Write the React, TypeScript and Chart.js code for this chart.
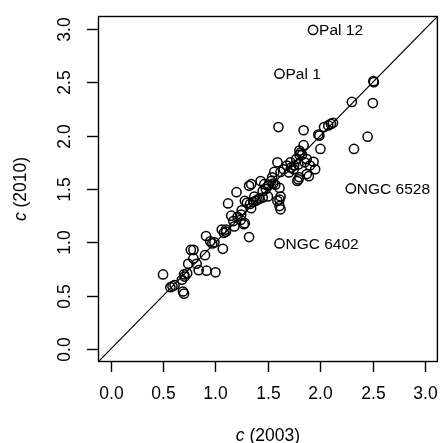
import React, { useEffect, useRef } from "react";
import { Chart, registerables } from "chart.js";

Chart.register(...registerables);

// c (2003) values
const xValues: number[] = [
  0.50, 0.57, 0.59, 0.61, 0.69, 0.70, 0.68, 0.70, 0.705, 0.73,
  0.74, 0.765, 0.79, 0.79, 0.82, 0.84, 0.915, 1.00, 0.90, 0.91,
  0.95, 0.97, 0.99, 1.07, 1.06, 1.08, 1.10, 1.10, 1.12, 1.15,
  1.17, 1.21, 1.24, 1.245, 1.27, 1.28, 1.20, 1.28, 1.32, 1.34,
  1.32, 1.30, 1.33, 1.36, 1.385, 1.40, 1.37, 1.42, 1.45, 1.34,
  1.43, 1.465, 1.50, 1.50, 1.53, 1.54, 1.51, 1.55, 1.57, 1.56,
  1.59, 1.61, 1.62, 1.61, 1.59, 1.61, 1.62, 1.62, 1.65, 1.68,
  1.715, 1.70, 1.745, 1.77, 1.79, 1.78, 1.80, 1.79, 1.87, 1.89,
  1.95, 1.935, 1.87, 1.80, 1.81, 1.825, 1.80, 1.84, 1.84, 1.60,
  1.98, 1.99, 2.00, 2.035, 2.075, 2.10, 2.12, 2.30, 2.50, 2.505,
  2.51, 2.45, 2.32, 1.72, 1.75, 1.85, 1.90, 1.45, 1.48, 1.25,
  1.18,
];
// c (2010) values
const yValues: number[] = [
  0.70, 0.58, 0.59, 0.60, 0.54, 0.52, 0.65, 0.70, 0.68, 0.71,
  0.80, 0.93, 0.93, 0.85, 0.80, 0.74, 0.735, 0.72, 0.88, 1.06,
  1.01, 0.99, 1.00, 0.94, 1.12, 1.09, 1.12, 1.10, 1.365, 1.25,
  1.20, 1.24, 1.21, 1.26, 1.17, 1.18, 1.47, 1.39, 1.53, 1.32,
  1.05, 1.37, 1.36, 1.38, 1.39, 1.40, 1.43, 1.41, 1.42, 1.545,
  1.575, 1.545, 1.53, 1.43, 1.575, 1.61, 1.54, 1.55, 1.54, 1.66,
  1.75, 1.51, 1.43, 1.40, 1.39, 1.34, 1.31, 1.66, 1.685, 1.72,
  1.75, 1.655, 1.685, 1.78, 1.73, 1.575, 1.61, 1.59, 1.64, 1.62,
  1.685, 1.755, 1.78, 1.86, 1.84, 1.82, 1.82, 1.91, 2.05, 2.08,
  2.01, 2.00, 1.875, 2.08, 2.095, 2.11, 2.12, 2.315, 2.305, 2.51,
  2.50, 1.99, 1.875, 1.70, 1.72, 1.75, 1.72, 1.48, 1.50, 1.30,
  1.15,
];

// Labelled clusters
const labelNames: string[] = ["Pal 12", "Pal 1", "NGC 6528", "NGC 6402"];
const labelX: number[] = [1.93, 1.61, 2.29, 1.61];
const labelY: number[] = [2.99, 2.58, 1.505, 0.99];

const tickValues: number[] = [0, 0.5, 1, 1.5, 2, 2.5, 3];
const tickLabels: string[] = ["0.0", "0.5", "1.0", "1.5", "2.0", "2.5", "3.0"];
const axisMin = -0.12;
const axisMax = 3.12;

const FONT = '"Liberation Sans", Arial, Helvetica, sans-serif';

const drawPlugin = {
  id: "rstyle",
  afterDatasetsDraw(chart: any) {
    const ctx = chart.ctx as CanvasRenderingContext2D;
    const { left, right, top, bottom } = chart.chartArea;
    const xs = chart.scales.x;
    const ys = chart.scales.y;
    ctx.save();
    ctx.strokeStyle = "#000";
    ctx.fillStyle = "#000";
    ctx.lineWidth = 1.4;
    // box
    ctx.strokeRect(left + 0.5, top + 0.5, right - left - 1, bottom - top - 1);

    // x axis ticks
    ctx.font = `17.5px ${FONT}`;
    ctx.textAlign = "center";
    ctx.textBaseline = "middle";
    tickValues.forEach((v, i) => {
      const px = Math.round(xs.getPixelForValue(v)) + 0.5;
      ctx.beginPath();
      ctx.moveTo(px, bottom);
      ctx.lineTo(px, bottom + 10);
      ctx.stroke();
      ctx.fillText(tickLabels[i], px, bottom + 32);
    });
    // y axis ticks (rotated labels)
    tickValues.forEach((v, i) => {
      const py = Math.round(ys.getPixelForValue(v)) + 0.5;
      ctx.beginPath();
      ctx.moveTo(left, py);
      ctx.lineTo(left - 11, py);
      ctx.stroke();
      ctx.save();
      ctx.translate(left - 33, py);
      ctx.rotate(-Math.PI / 2);
      ctx.fillText(tickLabels[i], 0, 0);
      ctx.restore();
    });

    // axis titles with italic c
    const drawTitle = (rest: string) => {
      ctx.font = `italic 17.5px ${FONT}`;
      const w1 = ctx.measureText("c").width;
      ctx.font = `17.5px ${FONT}`;
      const w2 = ctx.measureText(rest).width;
      const start = -(w1 + w2) / 2;
      ctx.textAlign = "left";
      ctx.font = `italic 17.5px ${FONT}`;
      ctx.fillText("c", start, 0);
      ctx.font = `17.5px ${FONT}`;
      ctx.fillText(rest, start + w1, 0);
    };
    ctx.save();
    ctx.translate((left + right) / 2, bottom + 74);
    drawTitle(" (2003)");
    ctx.restore();
    ctx.save();
    ctx.translate(21, (top + bottom) / 2);
    ctx.rotate(-Math.PI / 2);
    drawTitle(" (2010)");
    ctx.restore();

    // point annotations
    ctx.font = `15.5px ${FONT}`;
    ctx.textAlign = "left";
    ctx.textBaseline = "middle";
    labelNames.forEach((name, i) => {
      const px = xs.getPixelForValue(labelX[i]);
      const py = ys.getPixelForValue(labelY[i]);
      ctx.fillText(name, px + 6, py + 1);
    });
    ctx.restore();
  },
};

export default function App() {
  const ref = useRef<HTMLCanvasElement | null>(null);
  useEffect(() => {
    if (!ref.current) return;
    const pts = xValues.map((x, i) => ({ x, y: yValues[i] }));
    const lab = labelX.map((x, i) => ({ x, y: labelY[i] }));
    const chart = new Chart(ref.current, {
      type: "scatter",
      data: {
        datasets: [
          {
            data: [
              { x: axisMin, y: axisMin },
              { x: axisMax, y: axisMax },
            ],
            showLine: true,
            borderColor: "#000",
            borderWidth: 1.2,
            pointRadius: 0,
          } as any,
          {
            data: [...pts, ...lab],
            pointRadius: 4.6,
            pointBorderWidth: 1.5,
            borderColor: "#000",
            backgroundColor: "rgba(0,0,0,0)",
            pointStyle: "circle",
          },
        ],
      },
      options: {
        responsive: false,
        animation: false,
        devicePixelRatio: 1,
        layout: { padding: { left: 98, right: 1, top: 16, bottom: 81 } },
        plugins: {
          legend: { display: false },
          tooltip: { enabled: false },
        },
        scales: {
          x: { type: "linear", min: axisMin, max: axisMax, display: false },
          y: { type: "linear", min: axisMin, max: axisMax, display: false },
        },
      },
      plugins: [drawPlugin],
    });
    return () => chart.destroy();
  }, []);
  return (
    <canvas
      ref={ref}
      width={444}
      height={443}
      style={{ position: "absolute", left: 0, top: 0, display: "block", background: "#fff" }}
    />
  );
}
